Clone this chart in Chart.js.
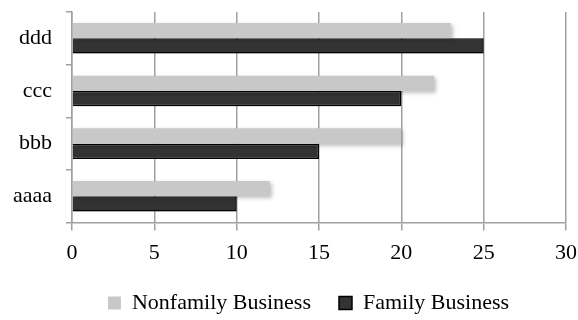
<!DOCTYPE html>
<html><head><meta charset="utf-8">
<script src="https://cdn.jsdelivr.net/npm/chart.js@4/dist/chart.umd.min.js"></script>
<style>html,body{margin:0;padding:0;background:#fff}#wrap{width:578px;height:320px}</style>
</head><body><div id="wrap"><canvas id="c" width="578" height="320"></canvas></div>
<script>
const categories = ['ddd', 'ccc', 'bbb', 'aaaa'];
const nonfamily = [23, 22, 20, 12];
const family = [25, 20, 15, 10];
const xTicks = [0, 5, 10, 15, 20, 25, 30];

const shadow = {
  id: 'shadow',
  beforeDatasetsDraw(chart) { const ctx = chart.ctx; ctx.save(); ctx.shadowColor = 'rgba(0,0,0,0.25)'; ctx.shadowBlur = 4; ctx.shadowOffsetX = 2; ctx.shadowOffsetY = 2; },
  afterDatasetsDraw(chart) { chart.ctx.restore(); }
};
const legendShift = {
  id: 'legendShift',
  afterLayout(chart) {
    const l = chart.legend; const dx = 15, dy = 4;
    l.left += dx; l.right += dx; l.top += dy; l.bottom += dy;
  }
};

new Chart(document.getElementById('c'), {
  type: 'bar',
  data: {
    labels: categories,
    datasets: [
      { label: 'Nonfamily Business', data: nonfamily, backgroundColor: '#c8c8c8', borderWidth: 0 },
      { label: 'Family Business', data: family, backgroundColor: '#333333', borderColor: '#000000', borderWidth: 1.5 }
    ]
  },
  options: {
    indexAxis: 'y',
    responsive: false,
    animation: false,
    layout: { padding: { top: 12, right: 2, left: 11, bottom: 0 } },
    datasets: { bar: { categoryPercentage: 0.58, barPercentage: 1.0 } },
    scales: {
      x: {
        min: 0, max: 30,
        afterBuildTicks(axis) { axis.ticks = xTicks.map(v => ({ value: v })); },
        afterFit(axis) { axis.paddingRight = 12; axis.height -= 15; },
        grid: { color: '#a0a0a0', lineWidth: 1.5, tickLength: 8 },
        border: { color: '#a0a0a0', width: 1.5 },
        ticks: { color: '#000', font: { family: 'Liberation Serif', size: 22 }, padding: 9 }
      },
      y: {
        afterFit(axis) { axis.paddingTop = 0; axis.paddingBottom = 0; axis.width = 61; },
        grid: { drawOnChartArea: false, color: '#a0a0a0', lineWidth: 1.5, tickLength: 6, offset: true },
        border: { color: '#a0a0a0', width: 1.5 },
        ticks: { color: '#000', font: { family: 'Liberation Serif', size: 22 }, padding: 14 }
      }
    },
    plugins: {
      legend: {
        position: 'bottom',
        labels: { color: '#000', font: { family: 'Liberation Serif', size: 22 }, boxWidth: 13, boxHeight: 13, padding: 28 }
      },
      tooltip: { enabled: false }
    }
  },
  plugins: [shadow, legendShift]
});
</script></body></html>
